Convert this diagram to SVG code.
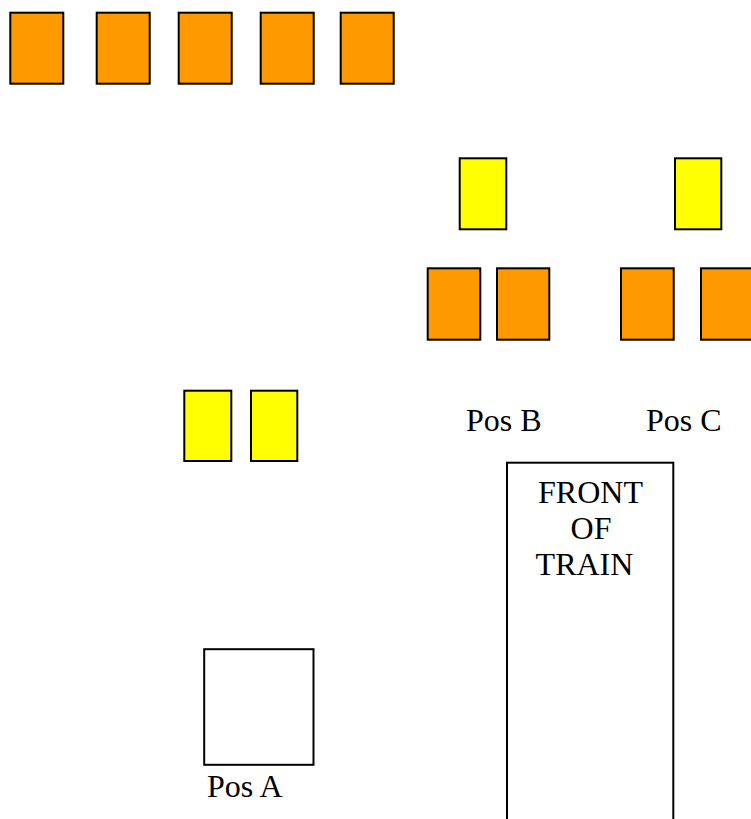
<svg xmlns="http://www.w3.org/2000/svg" width="751" height="819" viewBox="0 0 751 819">
<style>
.o{fill:#FF9900;stroke:#000;stroke-width:2}
.y{fill:#FFFF00;stroke:#000;stroke-width:2}
.w{fill:#fff;stroke:#000;stroke-width:2}
.t{font-family:"Liberation Serif","Times New Roman",serif;font-size:32px;fill:#000}
</style>
<rect width="751" height="819" fill="#fff"/>
<g id="top-row">
<rect id="o1" class="o" x="10.3" y="12.7" width="53" height="71"/>
<rect id="o2" class="o" x="96.7" y="12.7" width="53" height="71"/>
<rect id="o3" class="o" x="178.7" y="12.7" width="53" height="71"/>
<rect id="o4" class="o" x="260.7" y="12.7" width="53" height="71"/>
<rect id="o5" class="o" x="340.7" y="12.7" width="53" height="71"/>
</g>
<g id="posB-group">
<rect id="yB" class="y" x="459.7" y="158.3" width="46.6" height="71"/>
<rect id="oB1" class="o" x="427.7" y="268.3" width="52.6" height="71.4"/>
<rect id="oB2" class="o" x="497" y="268.3" width="52.3" height="71.4"/>
</g>
<g id="posC-group">
<rect id="yC" class="y" x="675" y="158.3" width="46.3" height="71"/>
<rect id="oC1" class="o" x="621" y="268.3" width="52.7" height="71.4"/>
<rect id="oC2" class="o" x="701" y="268.3" width="52" height="71.4"/>
</g>
<g id="posA-yellow">
<rect id="yA1" class="y" x="184.3" y="390.7" width="47" height="70.3"/>
<rect id="yA2" class="y" x="251" y="390.7" width="46.3" height="70.3"/>
</g>
<g id="posA">
<rect class="w" x="204.2" y="649.2" width="109.3" height="115.6"/>
<text class="t" x="207" y="797">Pos A</text>
</g>
<g id="labels">
<text class="t" x="466" y="431">Pos B</text>
<text class="t" x="646" y="431">Pos C</text>
</g>
<g id="train">
<rect class="w" x="507" y="462.7" width="166.3" height="400"/>
<text class="t" text-anchor="middle" x="590.5" y="503">FRONT</text>
<text class="t" text-anchor="middle" x="591" y="539">OF</text>
<text class="t" text-anchor="middle" x="584.5" y="575">TRAIN</text>
</g>
<g id="connectors"/>
</svg>
